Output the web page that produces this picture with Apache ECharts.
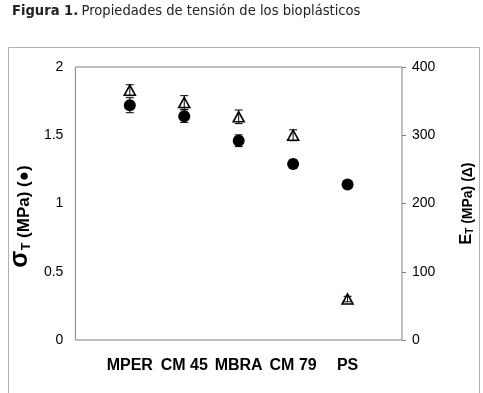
<!DOCTYPE html>
<html>
<head>
<meta charset="utf-8">
<script src="https://cdn.jsdelivr.net/npm/echarts@6/dist/echarts.min.js"></script>
<style>
  html, body { margin: 0; padding: 0; background: #fff; }
  #chart { width: 483px; height: 393px; }
</style>
</head>
<body>
<div id="chart"></div>
<script>
    var categories = ['MPER', 'CM 45', 'MBRA', 'CM 79', 'PS'];
    // tensile strength (MPa), left axis
    var sigmaValues = [1.72, 1.64, 1.46, 1.29, 1.14];
    var sigmaErrors = [0.055, 0.046, 0.043, 0.03, 0.02];
    // modulus (MPa), right axis
    var modulusValues = [366, 348, 327, 300, 60];
    var modulusErrors = [8, 10, 10, 8, 4];
    var leftTicks = [0, 0.5, 1, 1.5, 2];
    var rightTicks = [0, 100, 200, 300, 400];

    var myChart = echarts.init(document.getElementById('chart'));

    function points(values) {
        return values.map(function (v, i) { return [i + 1, v]; });
    }
    function errorData(values, errors) {
        return values.map(function (v, i) { return [i + 1, v - errors[i], v + errors[i]]; });
    }
    function renderError(params, api) {
        var lo = api.coord([api.value(0), api.value(1)]);
        var hi = api.coord([api.value(0), api.value(2)]);
        var cap = 4;
        var style = { stroke: '#000', lineWidth: 1 };
        return {
            type: 'group',
            children: [
                { type: 'line', shape: { x1: lo[0], y1: lo[1], x2: hi[0], y2: hi[1] }, style: style },
                { type: 'line', shape: { x1: lo[0] - cap, y1: lo[1], x2: lo[0] + cap, y2: lo[1] }, style: style },
                { type: 'line', shape: { x1: hi[0] - cap, y1: hi[1], x2: hi[0] + cap, y2: hi[1] }, style: style }
            ]
        };
    }

    var arial = 'Arial, "Liberation Sans", sans-serif';
    var narrow = '"Liberation Sans Narrow", "DejaVu Sans Condensed", sans-serif';
    var labelFont = { color: '#000', fontFamily: arial, fontSize: 14 };

    var option = {
        animation: false,
        backgroundColor: '#fff',
        graphic: [
            {
                type: 'rect', silent: true,
                shape: { x: 8.5, y: 47.5, width: 471, height: 360 },
                style: { fill: 'none', stroke: '#b0b0b0', lineWidth: 1 }
            },
            {
                type: 'text', left: 12, top: 4,
                style: {
                    text: '{b|Figura 1.} {n|Propiedades de tensión de los bioplásticos}',
                    rich: {
                        b: { fontFamily: narrow, fontWeight: 'bold', fontSize: 14.6, fill: '#222' },
                        n: { fontFamily: narrow, fontSize: 14.6, fill: '#222' }
                    }
                }
            }
        ],
        grid: {
            left: 74, right: 79, top: 67, bottom: 53,
            show: true, borderColor: '#808080', borderWidth: 1
        },
        xAxis: {
            type: 'value', min: 0, max: 6, interval: 1,
            axisLine: { show: false },
            axisTick: { show: false },
            splitLine: { show: false },
            axisLabel: {
                margin: 18,
                color: '#000', fontFamily: arial,
                fontSize: 16, fontWeight: 'bold',
                formatter: function (v) { return categories[v - 1] || ''; }
            }
        },
        yAxis: [
            {
                type: 'value', min: leftTicks[0], max: leftTicks[leftTicks.length - 1], interval: 0.5,
                position: 'left',
                axisLine: { show: false },
                axisTick: { show: false },
                splitLine: { show: false },
                axisLabel: Object.assign({ margin: 12 }, labelFont),
                name: '{s|σ}{sub|T}{t| (MPa) (●)}',
                nameLocation: 'middle', nameRotate: 90, nameGap: 33,
                nameTextStyle: {
                    padding: [0, 26, 0, 0],
                    rich: {
                        s: { fontSize: 25, fontWeight: 'bold', color: '#000', fontFamily: arial, lineHeight: 26, verticalAlign: 'bottom' },
                        sub: { fontSize: 13, fontWeight: 'bold', color: '#000', fontFamily: arial, lineHeight: 22, verticalAlign: 'bottom' },
                        t: { fontSize: 17, fontWeight: 'bold', color: '#000', fontFamily: arial, lineHeight: 26, verticalAlign: 'bottom' }
                    }
                }
            },
            {
                type: 'value', min: rightTicks[0], max: rightTicks[rightTicks.length - 1], interval: 100,
                position: 'right',
                axisLine: { show: false },
                axisTick: { show: true, inside: false, length: 4, lineStyle: { color: '#808080' } },
                splitLine: { show: false },
                axisLabel: Object.assign({ margin: 10 }, labelFont),
                name: '{e|E}{sub|T}{t| (MPa) (Δ)}',
                nameLocation: 'middle', nameRotate: 90, nameGap: 53,
                nameTextStyle: {
                    rich: {
                        e: { fontSize: 16, fontWeight: 'bold', color: '#000', fontFamily: arial, lineHeight: 20, verticalAlign: 'bottom' },
                        sub: { fontSize: 10, fontWeight: 'bold', color: '#000', fontFamily: arial, lineHeight: 18, verticalAlign: 'bottom' },
                        t: { fontSize: 14, fontWeight: 'bold', color: '#000', fontFamily: arial, lineHeight: 20, verticalAlign: 'bottom' }
                    }
                }
            }
        ],
        series: [
            {
                type: 'custom', yAxisIndex: 1, renderItem: renderError,
                data: errorData(modulusValues, modulusErrors), z: 5
            },
            {
                type: 'scatter', yAxisIndex: 1, symbol: 'triangle', symbolSize: [11, 10],
                itemStyle: { color: 'rgba(255,255,255,0)', borderColor: '#000', borderWidth: 1.6, opacity: 1 },
                data: points(modulusValues), z: 4
            },
            {
                type: 'custom', yAxisIndex: 0, renderItem: renderError,
                data: errorData(sigmaValues, sigmaErrors), z: 3
            },
            {
                type: 'scatter', yAxisIndex: 0, symbol: 'circle', symbolSize: 12,
                itemStyle: { color: '#000', opacity: 1 },
                data: points(sigmaValues), z: 4
            }
        ]
    };

    if (option && typeof option === "object") {
        myChart.setOption(option, true);
    }
</script>
</body>
</html>
